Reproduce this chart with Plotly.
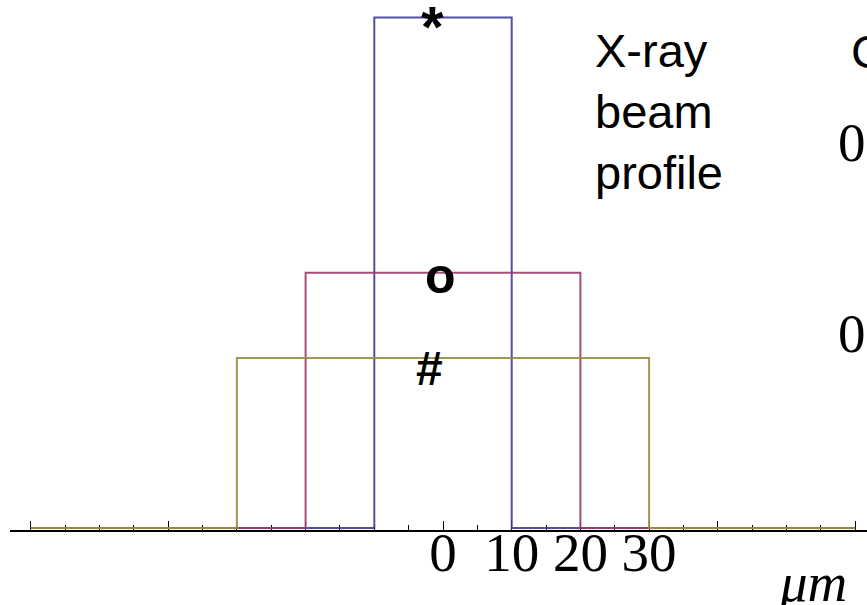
import plotly.graph_objects as go

# Rectangular beam profiles: half-width (μm) and height (normalised intensity)
half_widths = [10, 20, 30]
heights = [1.0, 0.5, 0.333]
colors = ["#3F3D99", "#993D6E", "#998C3D"]
symbols = ["*", "o", "#"]
symbol_dx = [-1.6, -0.4, -2.0]
symbol_size = [58, 50, 48]
symbol_shift = [26, -3, -10]

x_extent = 60
label_ticks = [0, 10, 20, 30]
major_ticks = [-60, -40, -20, 0, 10, 20, 30, 40, 60]

fig = go.Figure()

for w, h, c in zip(half_widths, heights, colors):
    fig.add_trace(go.Scatter(
        x=[-x_extent, -w, -w, w, w, x_extent],
        y=[0, 0, h, h, 0, 0],
        mode="lines",
        line=dict(color=c, width=2),
        opacity=0.9,
        showlegend=False,
        hoverinfo="skip",
    ))

# profile tags sitting on top of each rectangle
for s, h, dx, fs, sh in zip(symbols, heights, symbol_dx, symbol_size, symbol_shift):
    fig.add_annotation(
        x=dx, y=h, xref="x", yref="y", text=f"<b>{s}</b>",
        showarrow=False, xanchor="center",
        yanchor="top" if s == "*" else "middle",
        yshift=sh,
        font=dict(family="Liberation Sans", size=fs, color="black"),
    )

ticktext = [str(v) if v in label_ticks else "" for v in major_ticks]

fig.update_xaxes(
    range=[-63.03, 61.72],
    tickvals=major_ticks,
    ticktext=ticktext,
    ticks="inside",
    ticklen=9,
    tickwidth=1,
    tickcolor="black",
    minor=dict(dtick=5, tick0=0, ticks="inside", ticklen=5, tickcolor="black", tickwidth=1),
    showline=True,
    linecolor="black",
    linewidth=1.5,
    showgrid=False,
    zeroline=False,
    layer="below traces",
    ticklabelstandoff=-27,
    tickfont=dict(family="Liberation Serif", size=55, color="black"),
)
fig.update_yaxes(
    range=[-0.0039, 1.0344],
    visible=False,
    showgrid=False,
    zeroline=False,
)

fig.add_annotation(
    x=(813 - 10) / 857, y=(530 - 582) / 530, xref="paper", yref="paper",
    text="<i>μm</i>", showarrow=False, xanchor="center", yanchor="middle",
    font=dict(family="Liberation Serif", size=55, color="black"),
)
fig.add_annotation(
    x=(593 - 10) / 857, y=1.0, xref="paper", yref="paper",
    text="X-ray<br>beam<br>profile", showarrow=False, xanchor="left", yanchor="top",
    align="left", yshift=-22,
    font=dict(family="Liberation Sans", size=47, color="black"),
)
fig.add_annotation(
    x=(849 - 10) / 857, y=(530 - 52) / 530, xref="paper", yref="paper",
    text="C", showarrow=False, xanchor="left", yanchor="middle",
    font=dict(family="Liberation Sans", size=47, color="black"),
)
for ypx in [142, 333]:
    fig.add_annotation(
        x=(836 - 10) / 857, y=(530 - ypx) / 530, xref="paper", yref="paper",
        text="0", showarrow=False, xanchor="left", yanchor="middle",
        font=dict(family="Liberation Serif", size=55, color="black"),
    )

fig.update_layout(
    width=867,
    height=605,
    margin=dict(l=10, r=0, t=0, b=75),
    paper_bgcolor="white",
    plot_bgcolor="white",
)

fig.write_html("out.html")
